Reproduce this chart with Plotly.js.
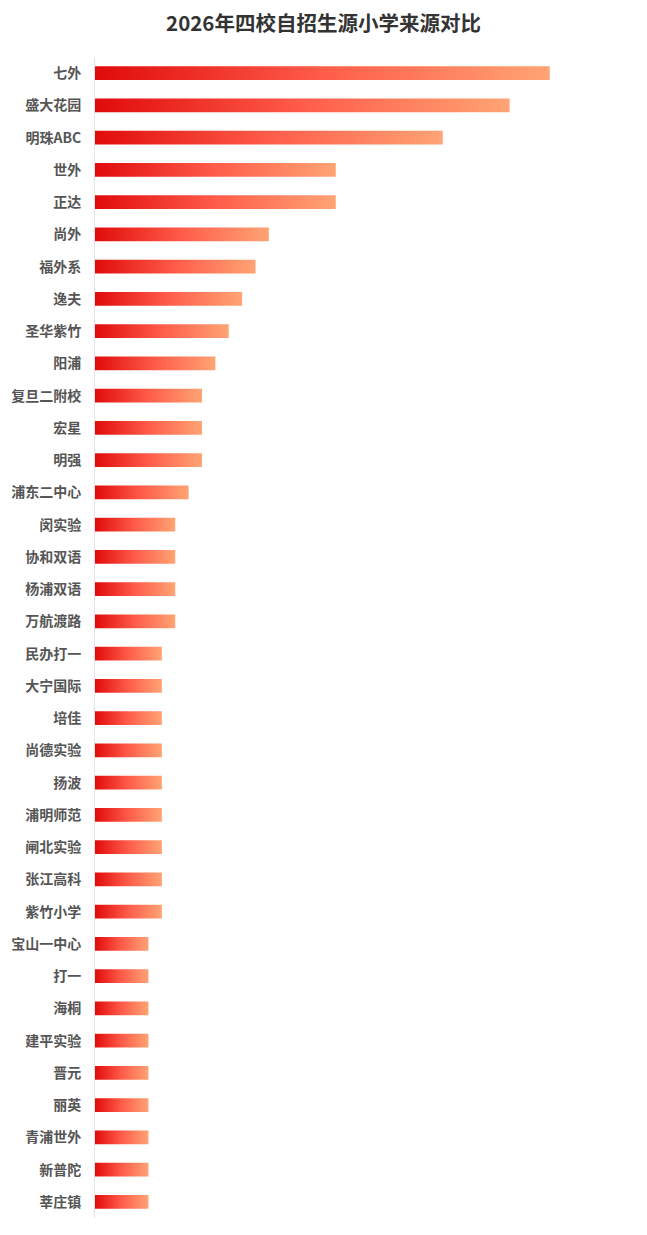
<!DOCTYPE html>
<html>
<head>
<meta charset="utf-8">
<script src="https://cdn.plot.ly/plotly-3.0.1.min.js"></script>
<style>
  html, body { margin: 0; padding: 0; background: #fff; }
  #myDiv { width: 647px; height: 1235px; }
</style>
</head>
<body>
<div id="myDiv"></div>
<script>
// primary schools, top to bottom
var schools = [
  '七外', '盛大花园', '明珠ABC', '世外', '正达', '尚外', '福外系', '逸夫',
  '圣华紫竹', '阳浦', '复旦二附校', '宏星', '明强', '浦东二中心', '闵实验',
  '协和双语', '杨浦双语', '万航渡路', '民办打一', '大宁国际', '培佳', '尚德实验',
  '扬波', '浦明师范', '闸北实验', '张江高科', '紫竹小学', '宝山一中心', '打一',
  '海桐', '建平实验', '晋元', '丽英', '青浦世外', '新普陀', '莘庄镇'
];
var counts = [
  34, 31, 26, 18, 18, 13, 12, 11,
  10, 9, 8, 8, 8, 7, 6,
  6, 6, 6, 5, 5, 5, 5,
  5, 5, 5, 5, 5, 4, 4,
  4, 4, 4, 4, 4, 4, 4
];

var barGradient = [[0, '#e00b0b'], [0.5, '#ff5c4a'], [1, '#ffa474']];
var half = 0.215;

// each bar is a filled shape so it can carry its own red->orange gradient
var data = schools.map(function(name, i) {
  var v = counts[i];
  return {
    x: [0, v, v, 0, 0],
    y: [i - half, i - half, i + half, i + half, i - half],
    type: 'scatter',
    mode: 'lines',
    line: { width: 0 },
    fill: 'toself',
    fillgradient: { type: 'horizontal', colorscale: barGradient },
    name: name,
    hoveron: 'fills',
    hoverinfo: 'text',
    text: name + ': ' + v,
    showlegend: false
  };
});

var layout = {
  width: 647,
  height: 1235,
  paper_bgcolor: '#fff',
  plot_bgcolor: '#fff',
  margin: { l: 95, r: 17, t: 57, b: 17 },
  font: { family: '"Noto Sans CJK SC", "Noto Sans", sans-serif', color: '#555' },
  title: {
    text: '<b>2026年四校自招生源小学来源对比</b>',
    font: { size: 20.5, color: '#333' },
    x: 0.5, xanchor: 'center',
    y: 1 - 24 / 1235, yref: 'container', yanchor: 'middle'
  },
  xaxis: {
    range: [0, 40],
    showgrid: false,
    zeroline: false,
    showline: false,
    showticklabels: false,
    fixedrange: true
  },
  yaxis: {
    range: [schools.length - 0.5, -0.5],
    tickmode: 'array',
    tickvals: schools.map(function(s, i) { return i; }),
    ticktext: schools.map(function(s) { return '<b>' + s + '</b>'; }),
    tickfont: { size: 14, color: '#555' },
    ticks: '',
    ticklabelstandoff: 10,
    showgrid: false,
    zeroline: false,
    showline: true,
    linecolor: '#e3e3e3',
    linewidth: 1,
    fixedrange: true
  }
};

Plotly.newPlot('myDiv', data, layout, { displayModeBar: false, responsive: false });
</script>
</body>
</html>
